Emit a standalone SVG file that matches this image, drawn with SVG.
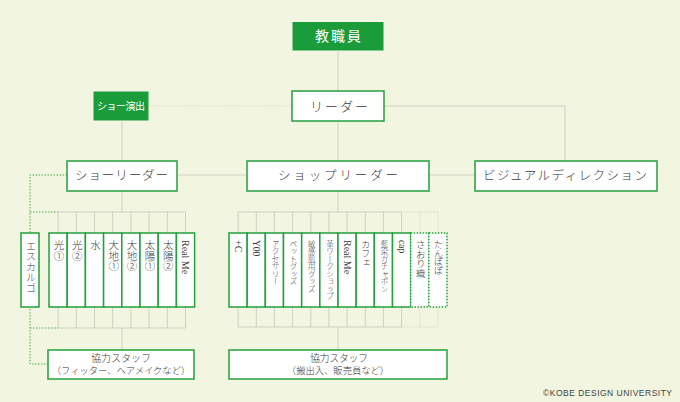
<svg xmlns="http://www.w3.org/2000/svg" width="680" height="402" viewBox="0 0 680 402">
<style>
.ln{stroke:#cfcfc4;stroke-width:1;fill:none}
.lnd{stroke:#cfcfc4;stroke-width:1;fill:none;stroke-dasharray:1 1.5}
.gd{stroke:#4cb050;stroke-width:1;fill:none;stroke-dasharray:1.5 1.5}
.gb{fill:#1b9c3b;stroke:#f4f8ea;stroke-width:1}
.wb{fill:#ffffff;stroke:#22a03c;stroke-width:1.5}
.wbd{fill:#ffffff;stroke:#22a03c;stroke-width:1.5;stroke-dasharray:1.5 1.5}
.t{font-family:"Liberation Serif","Noto Sans CJK JP",serif;fill:#3a3a3a;font-weight:300}
.lat{font-family:"Liberation Serif",serif;font-weight:400;fill:#3a3a3a}
.tw{font-family:"Noto Sans CJK JP",sans-serif;fill:#ffffff}
.h{text-anchor:middle}
.v{writing-mode:vertical-rl;text-anchor:start}
.cp{font-family:"Liberation Sans",Arial,sans-serif;fill:#444444;font-size:8.5px}
</style>
<rect x="0" y="0" width="680" height="402" fill="#f2f5df"/>

<g id="connectors">
  <line class="ln" x1="338" y1="51" x2="338" y2="161"/>
  <polyline class="ln" points="384,106 565,106 565,161"/>
  <line class="lnd" x1="149" y1="106" x2="292" y2="106"/>
  <line class="ln" x1="122" y1="121" x2="122" y2="161"/>
  <line class="ln" x1="177" y1="175" x2="475" y2="175"/>
  <line class="ln" x1="122" y1="191" x2="122" y2="212"/>
  <line class="ln" x1="58.1" y1="212" x2="185.5" y2="212"/>
  <path class="ln" d="M58.1 212V233M76.3 212V233M94.5 212V233M112.7 212V233M130.9 212V233M149.1 212V233M167.3 212V233M185.5 212V233"/>
  <path class="ln" d="M58.1 307V328M76.3 307V328M94.5 307V328M112.7 307V328M130.9 307V328M149.1 307V328M167.3 307V328M185.5 307V328"/>
  <line class="ln" x1="58.1" y1="328" x2="185.5" y2="328"/>
  <line class="ln" x1="122" y1="328" x2="122" y2="350"/>
  <polyline class="gd" points="67,175 30,175 30,364 48,364"/>
  <line class="gd" x1="30" y1="212" x2="58" y2="212"/>
  <line class="gd" x1="30" y1="328" x2="58" y2="328"/>
  <line class="ln" x1="338" y1="191" x2="338" y2="212"/>
  <line class="ln" x1="238.1" y1="212" x2="401.6" y2="212"/>
  <path class="ln" d="M238.1 212V233M256.3 212V233M274.4 212V233M292.6 212V233M310.8 212V233M328.9 212V233M347.1 212V233M365.3 212V233M383.4 212V233M401.6 212V233"/>
  <line class="lnd" x1="401.6" y1="212" x2="437.9" y2="212"/>
  <path class="lnd" d="M419.8 212V233M437.9 212V233"/>
  <path class="ln" d="M238.1 307V327M256.3 307V327M274.4 307V327M292.6 307V327M310.8 307V327M328.9 307V327M347.1 307V327M365.3 307V327M383.4 307V327M401.6 307V327"/>
  <line class="ln" x1="238.1" y1="327" x2="401.6" y2="327"/>
  <line class="lnd" x1="401.6" y1="327" x2="437.9" y2="327"/>
  <path class="lnd" d="M419.8 307V327M437.9 307V327"/>
  <line class="ln" x1="338" y1="327" x2="338" y2="350"/>
</g>

<g id="kyoshokuin">
  <rect class="gb" x="292" y="21.5" width="92" height="29.5"/>
  <text class="tw h" x="338" y="41" font-size="14" textLength="46">教職員</text>
</g>
<g id="show-enshutsu">
  <rect class="gb" x="93" y="91" width="56" height="30"/>
  <text class="tw h" x="121" y="110" font-size="10" textLength="48">ショー演出</text>
</g>
<g id="leader">
  <rect class="wb" x="292" y="91" width="92" height="30"/>
  <text class="t h" x="339" y="110.5" font-size="13" textLength="58">リーダー</text>
</g>
<g id="show-leader">
  <rect class="wb" x="67" y="161" width="110" height="30"/>
  <text class="t h" x="121.5" y="180" font-size="12.5" textLength="93">ショーリーダー</text>
</g>
<g id="shop-leader">
  <rect class="wb" x="247" y="161" width="182" height="30"/>
  <text class="t h" x="338" y="180" font-size="12.5" textLength="120">ショップリーダー</text>
</g>
<g id="visual-direction">
  <rect class="wb" x="475" y="161" width="182" height="30"/>
  <text class="t h" x="565" y="180" font-size="12.5" textLength="164">ビジュアルディレクション</text>
</g>

<g id="escargot">
  <rect class="wb" x="21" y="233" width="18" height="74"/>
  <text class="t v" x="30" y="241" font-size="10" letter-spacing="0.5">エスカルゴ</text>
</g>

<g id="show-members">
  <g id="hikari1"><rect class="wb" x="49" y="233" width="18.2" height="74"/><text class="t v" x="58.1" y="240" font-size="10.5">光①</text></g>
  <g id="hikari2"><rect class="wb" x="67.2" y="233" width="18.2" height="74"/><text class="t v" x="76.3" y="240" font-size="10.5">光②</text></g>
  <g id="mizu"><rect class="wb" x="85.4" y="233" width="18.2" height="74"/><text class="t v" x="94.5" y="240" font-size="10.5">水</text></g>
  <g id="daichi1"><rect class="wb" x="103.6" y="233" width="18.2" height="74"/><text class="t v" x="112.7" y="240" font-size="10.5">大地①</text></g>
  <g id="daichi2"><rect class="wb" x="121.8" y="233" width="18.2" height="74"/><text class="t v" x="130.9" y="240" font-size="10.5">大地②</text></g>
  <g id="taiyo1"><rect class="wb" x="140" y="233" width="18.2" height="74"/><text class="t v" x="149.1" y="240" font-size="10.5">太陽①</text></g>
  <g id="taiyo2"><rect class="wb" x="158.2" y="233" width="18.2" height="74"/><text class="t v" x="167.3" y="240" font-size="10.5">太陽②</text></g>
  <g id="realme1"><rect class="wb" x="176.4" y="233" width="18.2" height="74"/><text class="lat v" x="185.5" y="240" font-size="10">Real Me</text></g>
</g>

<g id="shop-members">
  <g id="plusc"><rect class="wb" x="229" y="233" width="18.17" height="74"/><text class="lat v" x="238.1" y="240" font-size="10">+C</text></g>
  <g id="y00"><rect class="wb" x="247.17" y="233" width="18.17" height="74"/><text class="lat v" x="256.3" y="240" font-size="9.5">Y00</text></g>
  <g id="accessory"><rect class="wb" x="265.33" y="233" width="18.17" height="74"/><text class="t v" x="274.4" y="240" font-size="7.5">アクセサリー</text></g>
  <g id="pet"><rect class="wb" x="283.5" y="233" width="18.17" height="74"/><text class="t v" x="292.6" y="240" font-size="7.5">ペットグッズ</text></g>
  <g id="binkan"><rect class="wb" x="301.67" y="233" width="18.17" height="74"/><text class="t v" x="310.8" y="240" font-size="7.5">敏感肌用グッズ</text></g>
  <g id="kawa"><rect class="wb" x="319.83" y="233" width="18.17" height="74"/><text class="t v" x="328.9" y="240" font-size="7.5">革ワークショップ</text></g>
  <g id="realme2"><rect class="wb" x="338" y="233" width="18.17" height="74"/><text class="lat v" x="347.1" y="240" font-size="10">Real Me</text></g>
  <g id="cafe"><rect class="wb" x="356.17" y="233" width="18.17" height="74"/><text class="t v" x="365.3" y="240" font-size="9">カフェ</text></g>
  <g id="aizome"><rect class="wb" x="374.33" y="233" width="18.17" height="74"/><text class="t v" x="383.4" y="240" font-size="7.5">藍染ガチャポン</text></g>
  <g id="cap"><rect class="wb" x="392.5" y="233" width="18.17" height="74"/><text class="lat v" x="401.6" y="240" font-size="9.5">cap</text></g>
  <g id="saori"><rect class="wbd" x="410.67" y="233" width="18.17" height="74"/><text class="t v" x="419.8" y="240" font-size="9.5">さおり織</text></g>
  <g id="tanpopo"><rect class="wbd" x="428.83" y="233" width="18.17" height="74"/><text class="t v" x="437.9" y="240" font-size="8.8">たんぽぽ</text></g>
</g>

<g id="staff-show">
  <rect class="wb" x="48" y="350" width="146" height="29"/>
  <text class="t h" x="121" y="362" font-size="10" textLength="60">協力スタッフ</text>
  <text class="t h" x="121" y="374" font-size="9.3">（フィッター、ヘアメイクなど）</text>
</g>
<g id="staff-shop">
  <rect class="wb" x="229" y="350" width="218" height="29"/>
  <text class="t h" x="339" y="362" font-size="10" textLength="58">協力スタッフ</text>
  <text class="t h" x="338" y="374" font-size="9.3">（搬出入、販売員など）</text>
</g>

<text class="cp" x="543" y="396" textLength="129">©KOBE DESIGN UNIVERSITY</text>
</svg>
